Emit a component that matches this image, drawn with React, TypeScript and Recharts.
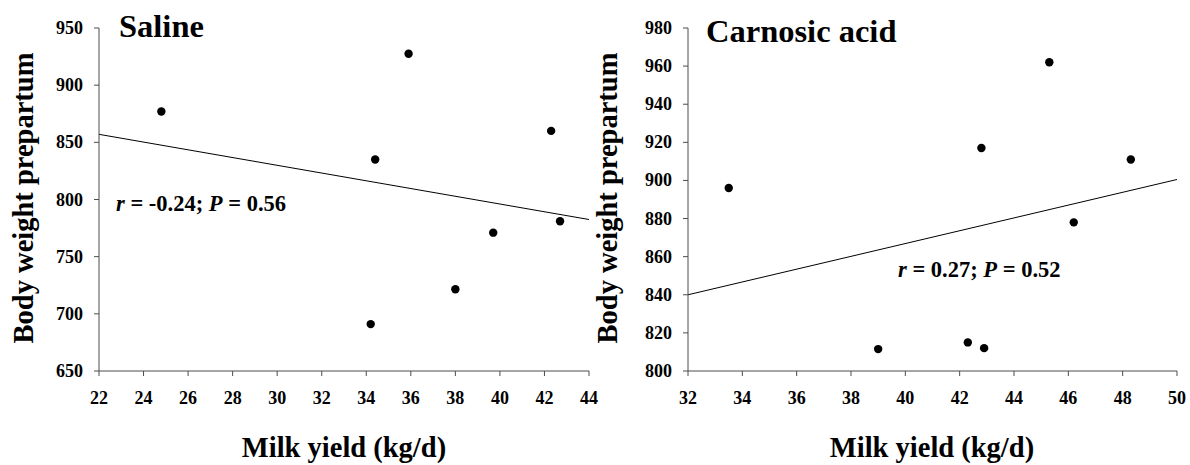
import {
  ReferenceLine,
  Scatter,
  ScatterChart,
  XAxis,
  YAxis,
} from 'recharts';

const salineMilk = [24.8, 35.9, 34.4, 42.3, 42.7, 39.7, 38.0, 34.2];
const salineWeight = [877, 927.5, 835, 860, 781, 771, 721.5, 691];
const salineTrendX = [22, 44];
const salineTrendY = [857, 782.5];
const salineXTicks = [22, 24, 26, 28, 30, 32, 34, 36, 38, 40, 42, 44];
const salineYTicks = [650, 700, 750, 800, 850, 900, 950];

const carnosicMilk = [33.5, 45.3, 42.8, 48.3, 46.2, 39.0, 42.3, 42.9];
const carnosicWeight = [896, 962, 917, 911, 878, 811.5, 815, 812];
const carnosicTrendX = [32, 50];
const carnosicTrendY = [840, 900.5];
const carnosicXTicks = [32, 34, 36, 38, 40, 42, 44, 46, 48, 50];
const carnosicYTicks = [800, 820, 840, 860, 880, 900, 920, 940, 960, 980];

const FONT = '"Liberation Serif", "Times New Roman", serif';
const AXIS_COLOR = '#4d4d4d';

type PanelProps = {
  title: string;
  milk: number[];
  weight: number[];
  trendX: number[];
  trendY: number[];
  xTicks: number[];
  yTicks: number[];
  r: string;
  p: string;
  axisWidth: number;
  marginRight: number;
  titleX: number;
  titleY: number;
  noteX: number;
  noteY: number;
  yLabelX: number;
  xLabelX: number;
};

function Dot(props: any) {
  const { cx, cy } = props;
  return <circle cx={cx} cy={cy} r={4.2} fill="#000" />;
}

function XTick(props: any) {
  const { x, y, payload } = props;
  return (
    <text
      x={x}
      y={y + 13}
      textAnchor="middle"
      fontSize={18}
      fontWeight="bold"
      fontFamily={FONT}
      fill="#000"
    >
      {payload.value}
    </text>
  );
}

function YTick(props: any) {
  const { x, y, payload } = props;
  return (
    <text
      x={x}
      y={y + 6}
      textAnchor="end"
      fontSize={18}
      fontWeight="bold"
      fontFamily={FONT}
      fill="#000"
    >
      {payload.value}
    </text>
  );
}

function Panel(props: PanelProps) {
  const points = props.milk.map((x, i) => ({ x, y: props.weight[i] }));

  return (
    <ScatterChart
      width={595}
      height={465}
      margin={{ top: 28, right: props.marginRight, bottom: 54, left: 0 }}
      style={{ fontFamily: FONT, overflow: 'visible' }}
    >
      <XAxis
        type="number"
        dataKey="x"
        domain={[props.xTicks[0], props.xTicks[props.xTicks.length - 1]]}
        ticks={props.xTicks}
        height={40}
        tickSize={5}
        tickMargin={15}
        tick={<XTick />}
        stroke={AXIS_COLOR}
        interval={0}
      />
      <YAxis
        type="number"
        dataKey="y"
        domain={[props.yTicks[0], props.yTicks[props.yTicks.length - 1]]}
        ticks={props.yTicks}
        width={props.axisWidth}
        tickSize={5}
        tickMargin={11}
        tick={<YTick />}
        stroke={AXIS_COLOR}
        interval={0}
      />
      <ReferenceLine
        segment={[
          { x: props.trendX[0], y: props.trendY[0] },
          { x: props.trendX[1], y: props.trendY[1] },
        ]}
        stroke="#000"
        strokeWidth={1}
      />
      <Scatter data={points} shape={Dot} isAnimationActive={false} />
      <text
        x={props.titleX}
        y={props.titleY}
        fontSize={32.5}
        fontWeight="bold"
        fontFamily={FONT}
        fill="#000"
      >
        {props.title}
      </text>
      <text
        x={props.noteX}
        y={props.noteY}
        fontSize={22.5}
        fontWeight="bold"
        fontFamily={FONT}
        fill="#000"
      >
        <tspan fontStyle="italic">r</tspan>
        {` = ${props.r}; `}
        <tspan fontStyle="italic">P</tspan>
        {` = ${props.p}`}
      </text>
      <text
        x={props.yLabelX}
        y={198}
        transform={`rotate(-90, ${props.yLabelX}, 198)`}
        textAnchor="middle"
        fontSize={28.5}
        fontWeight="bold"
        fontFamily={FONT}
        fill="#000"
      >
        Body weight prepartum
      </text>
      <text
        x={props.xLabelX}
        y={457}
        textAnchor="middle"
        fontSize={28.5}
        fontWeight="bold"
        fontFamily={FONT}
        fill="#000"
      >
        Milk yield (kg/d)
      </text>
    </ScatterChart>
  );
}

export default function App() {
  return (
    <div
      style={{
        position: 'absolute',
        left: 0,
        top: 0,
        width: 1190,
        height: 465,
        display: 'flex',
        background: '#fff',
      }}
    >
      <style>{'.recharts-surface { overflow: visible; }'}</style>
      <Panel
        title="Saline"
        milk={salineMilk}
        weight={salineWeight}
        trendX={salineTrendX}
        trendY={salineTrendY}
        xTicks={salineXTicks}
        yTicks={salineYTicks}
        r="-0.24"
        p="0.56"
        axisWidth={99}
        marginRight={6}
        titleX={119}
        titleY={37}
        noteX={116}
        noteY={211}
        yLabelX={33}
        xLabelX={344}
      />
      <Panel
        title="Carnosic acid"
        milk={carnosicMilk}
        weight={carnosicWeight}
        trendX={carnosicTrendX}
        trendY={carnosicTrendY}
        xTicks={carnosicXTicks}
        yTicks={carnosicYTicks}
        r="0.27"
        p="0.52"
        axisWidth={93}
        marginRight={13}
        titleX={111}
        titleY={42}
        noteX={303}
        noteY={277}
        yLabelX={22}
        xLabelX={337}
      />
    </div>
  );
}
